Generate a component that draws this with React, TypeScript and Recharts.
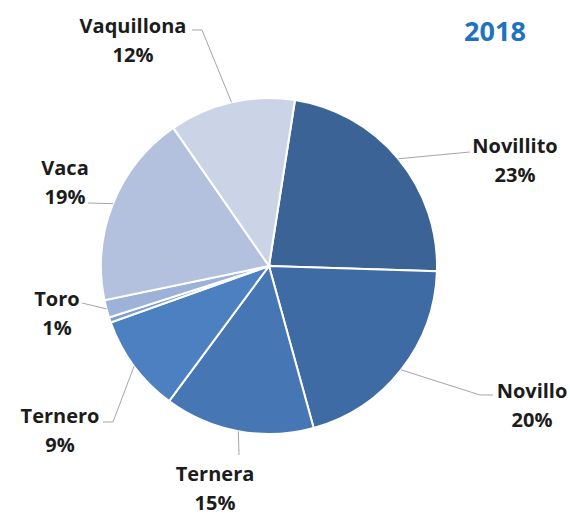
import { PieChart, Pie, Cell } from 'recharts';

const categories = ['Novillito', 'Novillo', 'Ternera', 'Ternero', 'Otros', 'Toro', 'Vaca', 'Vaquillona'];
const shares = [23, 20.2, 14.4, 9.4, 0.5, 1.7, 18.6, 12.1];
const percentLabels = ['23%', '20%', '15%', '9%', '', '1%', '19%', '12%'];
const colors = ['#3c6396', '#3e6ba4', '#4776b5', '#4d80c1', '#7c9cd0', '#9db2d9', '#b3c1df', '#cbd4e7'];

const data = categories.map((name, i) => ({ name, value: shares[i], pct: percentLabels[i] }));

// label layout, offsets from pie center: elbow points of the leader and text center
const labelLayout: Record<string, { pts: [number, number][]; tx: number; ty: number }> = {
  Novillito: { pts: [[201, -114]], tx: 246, ty: -121 },
  Novillo: { pts: [[211, 129], [224, 129]], tx: 263, ty: 124 },
  Ternera: { pts: [[-30, 189]], tx: -54, ty: 207 },
  Ternero: { pts: [[-156, 156], [-166, 156]], tx: -209, ty: 149 },
  Toro: { pts: [[-187, 37]], tx: -212, ty: 32 },
  Vaca: { pts: [[-181, -63]], tx: -204, ty: -99 },
  Vaquillona: { pts: [[-67, -236], [-77, -236]], tx: -136, ty: -241 },
};

const RADIAN = Math.PI / 180;
const FONT = '"Open Sans", sans-serif';

const renderLabel = (props: any) => {
  const { cx, cy, midAngle, outerRadius, name, payload } = props;
  const lay = labelLayout[name];
  if (!lay) return null;
  const sx = cx + outerRadius * Math.cos(-midAngle * RADIAN);
  const sy = cy + outerRadius * Math.sin(-midAngle * RADIAN);
  const points = [[sx, sy], ...lay.pts.map(([dx, dy]) => [cx + dx, cy + dy])]
    .map((p) => p.join(','))
    .join(' ');
  const tx = cx + lay.tx;
  const ty = cy + lay.ty;
  return (
    <g>
      <polyline points={points} fill="none" stroke="#a6a6a6" strokeWidth={1} />
      <text x={tx} y={ty} textAnchor="middle" dominantBaseline="central" fill="#1c1c1c" fontSize={20} fontWeight="bold" fontFamily={FONT}>
        {name}
      </text>
      <text x={tx} y={ty + 29} textAnchor="middle" dominantBaseline="central" fill="#1c1c1c" fontSize={20} fontWeight="bold" fontFamily={FONT}>
        {payload.pct}
      </text>
    </g>
  );
};

export default function App() {
  return (
    <div style={{ position: 'absolute', left: 0, top: 0, width: 570, height: 517, background: '#fff' }}>
      <PieChart width={570} height={517} margin={{ top: 0, right: 0, bottom: 0, left: 0 }}>
        <text x={495} y={30} textAnchor="middle" dominantBaseline="central" fill="#1f72bd" fontSize={27} fontWeight="bold" fontFamily={FONT}>
          2018
        </text>
        <Pie
          data={data}
          dataKey="value"
          nameKey="name"
          cx={269}
          cy={266}
          outerRadius={168}
          startAngle={81.1}
          endAngle={-278.9}
          stroke="#ffffff"
          strokeWidth={2}
          label={renderLabel}
          labelLine={false}
          isAnimationActive={false}
        >
          {data.map((d, i) => (
            <Cell key={d.name} fill={colors[i]} />
          ))}
        </Pie>
      </PieChart>
    </div>
  );
}
